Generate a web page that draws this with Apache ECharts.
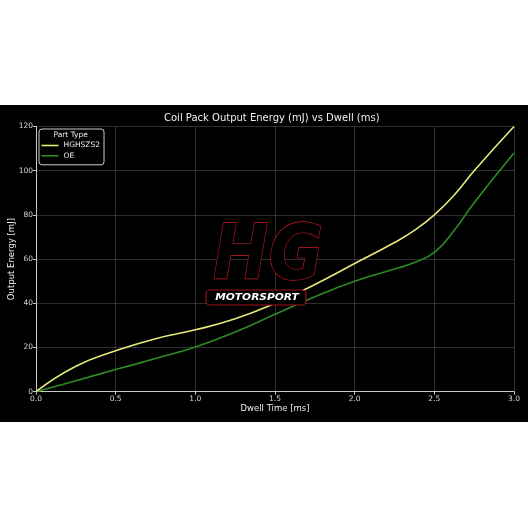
<!DOCTYPE html>
<html><head><meta charset="utf-8">
<script src="https://cdn.jsdelivr.net/npm/echarts@6/dist/echarts.min.js"></script>
<style>html,body{margin:0;padding:0;background:#fff}#c{width:528px;height:528px}</style>
</head><body><div id="c"></div>
<script>
const dwell = [0, 0.25, 0.5, 0.75, 1.0, 1.25, 1.5, 1.75, 2.0, 2.25, 2.375, 2.5, 2.625, 2.75, 3.0];
const hghszs2 = [0, 11.5, 18.5, 24, 28, 33, 40, 48.5, 58, 67.5, 73, 80, 89, 100, 120];
const oe = [0, 5, 10, 15, 20.2, 27, 35, 43, 50, 55.5, 58.5, 63, 73, 85.5, 108];
const xTicks = ['0.0','0.5','1.0','1.5','2.0','2.5','3.0'];
const seriesNames = ['HGHSZS2', 'OE'];

const chart = echarts.init(document.getElementById('c'), null, {renderer: 'canvas'});
const font = '"DejaVu Sans", sans-serif';
const toPairs = (xs, ys) => xs.map((x, i) => [x, ys[i]]);
chart.setOption({
  backgroundColor: '#ffffff',
  animation: false,
  title: {
    text: 'Coil Pack Output Energy (mJ) vs Dwell (ms)',
    left: 159, top: 108,
    textStyle: {color: '#f0f0f0', fontSize: 10, fontWeight: 'normal', fontFamily: font}
  },
  grid: {left: 36, right: 14, top: 126.5, bottom: 136.3, containLabel: false, outerBoundsMode: 'none'},
  legend: {
    data: seriesNames,
    orient: 'vertical', left: 39, top: 129,
    padding: [12.5, 4, 5, 2.5],
    itemGap: 2.3, itemWidth: 17, itemHeight: 1.6, icon: 'rect',
    borderColor: '#cccccc', borderWidth: 1, borderRadius: 3,
    backgroundColor: 'rgba(0,0,0,0.8)',
    textStyle: {color: '#eeeeee', fontSize: 7.5, fontFamily: font}
  },
  xAxis: {
    type: 'value', min: 0, max: 3, interval: 0.5,
    name: 'Dwell Time [ms]', nameLocation: 'middle', nameGap: 13, nameMoveOverlap: false,
    nameTextStyle: {color: '#eeeeee', fontSize: 8.5, fontFamily: font},
    axisLine: {show: true, lineStyle: {color: '#c8c8c8', width: 1}},
    axisTick: {show: true, length: 3, lineStyle: {color: '#c8c8c8'}},
    axisLabel: {color: '#d8d8d8', fontSize: 7.5, fontFamily: font, margin: 3,
      formatter: v => xTicks[Math.round(v / 0.5)]},
    splitLine: {show: true, lineStyle: {color: '#3a3a3a', width: 0.8}}
  },
  yAxis: {
    type: 'value', min: 0, max: 120, interval: 20,
    name: 'Output Energy [mJ]', nameLocation: 'middle', nameGap: 19.5, nameMoveOverlap: false,
    nameTextStyle: {color: '#eeeeee', fontSize: 8.5, fontFamily: font},
    axisLine: {show: true, lineStyle: {color: '#c8c8c8', width: 1}},
    axisTick: {show: true, length: 3, lineStyle: {color: '#c8c8c8'}},
    axisLabel: {color: '#d8d8d8', fontSize: 7.5, fontFamily: font, margin: 3},
    splitLine: {show: true, lineStyle: {color: '#3a3a3a', width: 0.8}}
  },
  series: [
    {name: seriesNames[0], type: 'line', data: toPairs(dwell, hghszs2), smooth: 0.5,
     showSymbol: false, color: '#e8e87a', lineStyle: {width: 1.6, color: '#e8e87a'}, z: 3},
    {name: seriesNames[1], type: 'line', data: toPairs(dwell, oe), smooth: 0.5,
     showSymbol: false, color: '#2b8c24', lineStyle: {width: 1.6, color: '#2b8c24'}, z: 2}
  ],
  graphic: [
    {type: 'rect', z: -100, silent: true, shape: {x: 0, y: 105, width: 528, height: 317}, style: {fill: '#000000'}},
    {type: 'text', z: 100, x: 70.7, y: 135, style: {text: 'Part Type', fill: '#eeeeee', fontSize: 7.5, fontFamily: 'DejaVu Sans', align: 'center', verticalAlign: 'middle', textAlign: 'center', textVerticalAlign: 'middle'}},
    {type: 'text', z: 50, x: 268, y: 259, scaleX: 0.74, scaleY: 0.86,
     style: {text: 'HG', fontStyle: 'italic', fontWeight: 900, fontSize: 90, fontFamily: 'DejaVu Sans',
       fill: '#000000', stroke: '#cc1a20', lineWidth: 1.5, align: 'center', verticalAlign: 'middle', textAlign: 'center', textVerticalAlign: 'middle'}},
    {type: 'rect', z: 50, shape: {x: 206, y: 290, width: 100, height: 15, r: 4}, style: {fill: '#000000', stroke: '#a01018', lineWidth: 1.2}},
    {type: 'text', z: 51, x: 257, y: 297.5, scaleX: 1.12,
     style: {text: 'MOTORSPORT', fontStyle: 'italic', fontWeight: 'bold', fontSize: 9.5, fontFamily: 'DejaVu Sans',
       fill: '#ffffff', align: 'center', verticalAlign: 'middle', textAlign: 'center', textVerticalAlign: 'middle'}}
  ]
});
</script></body></html>
